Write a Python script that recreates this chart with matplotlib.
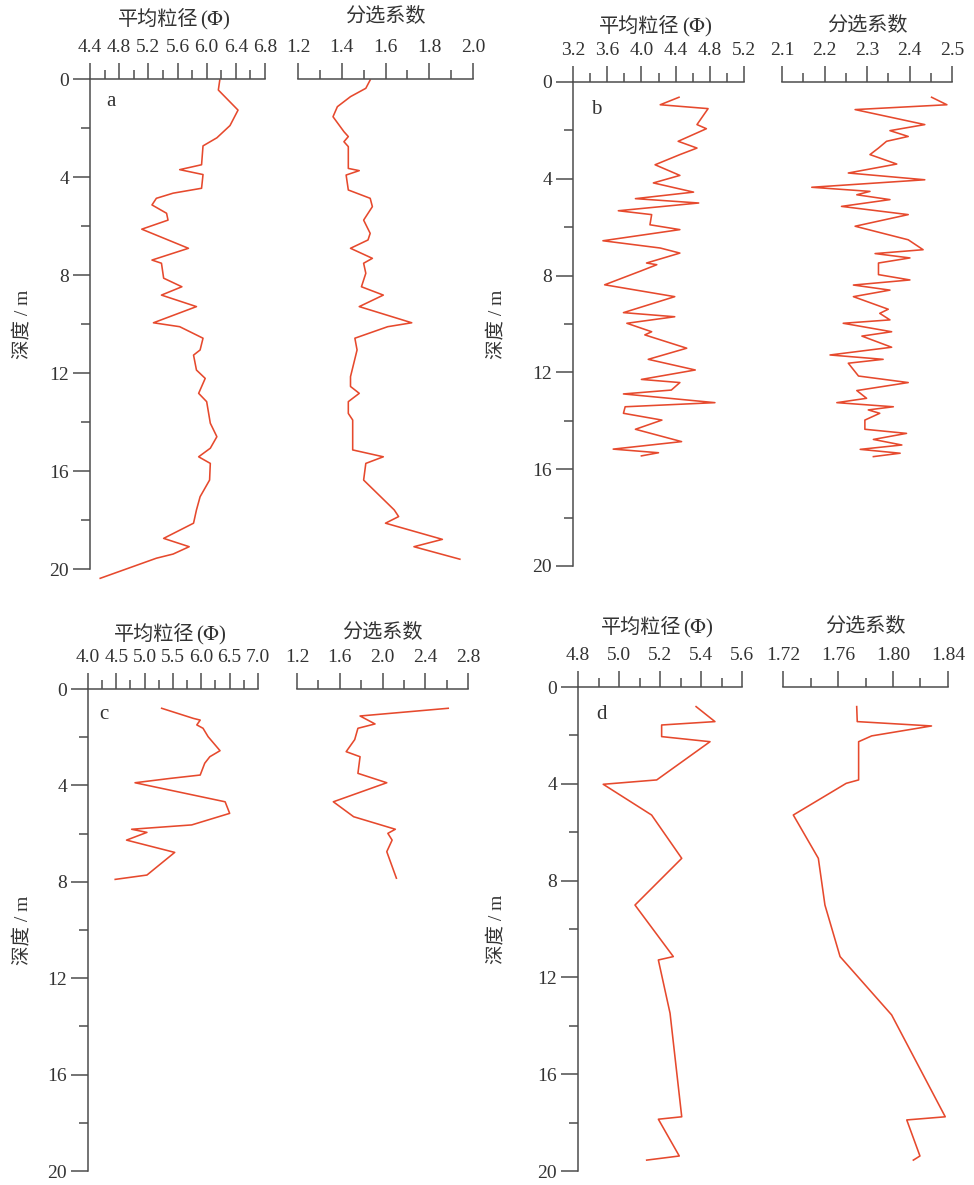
import matplotlib
matplotlib.use('Agg')
import matplotlib.pyplot as plt
from matplotlib.ticker import MultipleLocator, FormatStrFormatter

plt.rcParams['font.family'] = ['Liberation Serif', 'Noto Sans CJK SC']
plt.rcParams['mathtext.fontset'] = 'stix'

# ---- data (depth in m) ----
# panel a
a_mean_depth = [0.04, 0.45, 1.27, 1.9, 2.4, 2.73, 3.5, 3.7, 3.9, 4.46, 4.66, 4.87, 5.14, 5.48, 5.76,
                6.13, 6.91, 7.39, 7.52, 8.13, 8.48, 8.82, 9.29, 9.95, 10.11, 10.58, 11.06, 11.27, 11.88,
                12.22, 12.83, 13.17, 14.05, 14.6, 15.07, 15.42, 15.69, 16.37, 17.05, 17.59, 18.13, 18.75,
                19.09, 19.39, 19.56, 20.38]
a_mean = [6.18, 6.16, 6.43, 6.32, 6.14, 5.95, 5.93, 5.63, 5.95, 5.93, 5.54, 5.31, 5.25, 5.45, 5.47,
          5.11, 5.75, 5.25, 5.38, 5.41, 5.66, 5.38, 5.86, 5.27, 5.63, 5.95, 5.91, 5.82, 5.86,
          5.98, 5.89, 6.0, 6.05, 6.14, 6.05, 5.89, 6.05, 6.04, 5.91, 5.86, 5.82, 5.41,
          5.76, 5.54, 5.31, 4.54]
a_sort_depth = [0.04, 0.38, 0.72, 1.13, 1.54, 2.15, 2.35, 2.56, 2.76, 3.65, 3.74, 3.92, 4.53, 4.87,
                5.21, 5.76, 6.3, 6.57, 6.91, 7.32, 7.52, 7.93, 8.48, 8.82, 9.29, 9.95, 10.11, 10.58,
                11.06, 12.15, 12.55, 12.83, 13.17, 13.65, 13.92, 15.14, 15.42, 15.69, 16.37, 17.59,
                17.86, 18.13, 18.79, 19.09, 19.6]
a_sort = [1.53, 1.51, 1.44, 1.38, 1.36, 1.41, 1.43, 1.41, 1.43, 1.43, 1.48, 1.42, 1.43, 1.53,
          1.54, 1.50, 1.53, 1.52, 1.44, 1.54, 1.50, 1.51, 1.49, 1.59, 1.48, 1.72, 1.61, 1.46,
          1.47, 1.44, 1.44, 1.48, 1.43, 1.43, 1.45, 1.45, 1.59, 1.51, 1.50, 1.64,
          1.66, 1.60, 1.86, 1.73, 1.94]

# panel b
b_mean_depth = [0.63, 0.94, 1.10, 1.76, 1.93, 2.45, 2.73, 3.0, 3.42, 3.86, 4.17, 4.55, 4.82, 5.0,
                5.32, 5.48, 5.9, 6.1, 6.56, 6.86, 7.07, 7.48, 7.55, 7.8, 8.38, 8.87, 9.53, 9.70,
                9.97, 10.32, 10.45, 11.0, 11.46, 11.9, 12.29, 12.42, 12.73, 12.89, 13.25, 13.42,
                13.69, 13.97, 14.35, 14.86, 15.17, 15.32, 15.45]
b_mean = [4.44, 4.22, 4.78, 4.65, 4.76, 4.43, 4.65, 4.45, 4.16, 4.45, 4.14, 4.61, 3.93, 4.67,
          3.73, 4.12, 4.10, 4.45, 3.55, 4.22, 4.45, 4.06, 4.18, 4.0, 3.57, 4.39, 3.79, 4.39,
          3.83, 4.12, 4.04, 4.53, 4.08, 4.63, 4.0, 4.45, 4.35, 3.79, 4.86, 3.81,
          3.79, 4.24, 3.93, 4.47, 3.67, 4.20, 4.0]
b_sort_depth = [0.63, 0.94, 1.14, 1.76, 2.01, 2.25, 2.45, 2.73, 3.0, 3.39, 3.76, 4.04, 4.35, 4.52,
                4.66, 4.86, 5.14, 5.48, 5.96, 6.52, 6.93, 7.09, 7.27, 7.48, 7.96, 8.18, 8.39, 8.6,
                8.87, 9.39, 9.56, 9.83, 9.97, 10.32, 10.5, 10.96, 11.28, 11.46, 11.62, 12.15, 12.42,
                12.75, 13.07, 13.25, 13.42, 13.55, 13.69, 13.97, 14.35, 14.52, 14.77, 15.0, 15.18,
                15.34, 15.48]
b_sort = [2.452, 2.488, 2.272, 2.436, 2.354, 2.397, 2.346, 2.327, 2.307, 2.37, 2.256, 2.436, 2.17,
          2.307, 2.276, 2.354, 2.24, 2.397, 2.272, 2.397, 2.432, 2.319, 2.401, 2.327, 2.327, 2.401,
          2.268, 2.354, 2.268, 2.35, 2.33, 2.354, 2.244, 2.358, 2.288, 2.358, 2.213, 2.338, 2.256,
          2.28, 2.397, 2.276, 2.299, 2.229, 2.362, 2.303, 2.33, 2.295, 2.295, 2.393, 2.315, 2.382,
          2.284, 2.378, 2.315]

# panel c
c_mean_depth = [0.80, 1.22, 1.29, 1.49, 1.63, 1.98, 2.56, 2.81, 3.08, 3.57, 3.71, 3.89, 4.68, 5.16,
                5.64, 5.82, 5.95, 6.27, 6.78, 7.72, 7.9]
c_mean = [5.30, 5.86, 5.98, 5.92, 6.03, 6.12, 6.33, 6.15, 6.06, 5.98, 5.45, 4.83, 6.42, 6.50,
          5.83, 4.77, 5.04, 4.68, 5.53, 5.04, 4.48]
c_sort_depth = [0.80, 1.12, 1.45, 1.63, 2.1, 2.6, 2.81, 3.5, 3.89, 4.68, 5.3, 5.82, 5.99, 6.27, 6.75, 7.85]
c_sort = [2.615, 1.79, 1.93, 1.77, 1.74, 1.66, 1.79, 1.77, 2.04, 1.54, 1.73, 2.12, 2.05, 2.09, 2.04, 2.13]

# panel d
d_mean_depth = [0.81, 1.43, 1.57, 2.05, 2.26, 3.84, 4.02, 5.29, 7.08, 9.01, 11.14, 11.28, 13.48,
                17.76, 17.86, 19.38, 19.55]
d_mean = [5.376, 5.468, 5.208, 5.208, 5.444, 5.184, 4.923, 5.159, 5.306, 5.078, 5.265, 5.192, 5.249,
          5.306, 5.192, 5.294, 5.135]
d_sort_depth = [0.81, 1.43, 1.61, 2.02, 2.26, 3.84, 3.98, 5.29, 7.08, 9.01, 11.14, 13.55, 17.76,
                17.89, 19.38, 19.55]
d_sort = [1.7736, 1.774, 1.828, 1.7845, 1.775, 1.775, 1.766, 1.7275, 1.7457, 1.7505, 1.7615, 1.799,
          1.838, 1.810, 1.8196, 1.8148]

mean_title = '平均粒径'
mean_unit = '($\\mathit{\\Phi}$)'
sort_title = '分选系数'
depth_label = '深度 / m'

W, H = 974, 1185
fig = plt.figure(figsize=(W / 100, H / 100), dpi=100)
line_c = '#e6492d'
axis_c = '#4d4d4d'
text_c = '#333333'


def px_axes(x0, x1, y0, y1):
    return fig.add_axes([x0 / W, 1 - y1 / H, (x1 - x0) / W, (y1 - y0) / H])


def style(ax, lim, major, fmt, depth):
    ax.set_xlim(lim)
    ax.set_ylim(20, 0)
    ax.patch.set_alpha(0)
    ax.xaxis.tick_top()
    ax.xaxis.set_major_locator(MultipleLocator(major))
    ax.xaxis.set_minor_locator(MultipleLocator(major / 2))
    ax.xaxis.set_major_formatter(FormatStrFormatter(fmt))
    for s in ['right', 'bottom']:
        ax.spines[s].set_visible(False)
    for s in ['top', 'left']:
        ax.spines[s].set_color(axis_c)
        ax.spines[s].set_linewidth(1.1)
    ax.tick_params(axis='x', which='major', length=11.5, width=1.1, color=axis_c,
                   labelsize=14, labelcolor=text_c, pad=5)
    ax.tick_params(axis='x', which='minor', length=6.5, width=1.1, color=axis_c)
    if depth:
        ax.yaxis.set_major_locator(MultipleLocator(4))
        ax.yaxis.set_minor_locator(MultipleLocator(2))
        ax.yaxis.set_major_formatter(FormatStrFormatter('%d'))
        ax.tick_params(axis='y', which='major', length=12, width=1.1, color=axis_c,
                       labelsize=14, labelcolor=text_c, pad=3)
        ax.tick_params(axis='y', which='minor', length=6.5, width=1.1, color=axis_c)
    else:
        ax.spines['left'].set_visible(False)
        ax.yaxis.set_visible(False)


# layout per panel: depth axis x, mean right, sort left/right, y of 0 and 20,
# title heights, letter offset, ylabel x
panels = [
    ('a', 90, 265, 298, 473, 79, 569, (4.4, 6.8), 0.4, '%.1f', (1.2, 2.0), 0.2, '%.1f',
     a_mean_depth, a_mean, a_sort_depth, a_sort, 20, 17, (21, -23), 22),
    ('b', 573, 744, 782, 952, 82, 566, (3.2, 5.2), 0.4, '%.1f', (2.1, 2.5), 0.1, '%.1f',
     b_mean_depth, b_mean, b_sort_depth, b_sort, 27, 26, (23, -28), 496),
    ('c', 88, 258, 297, 468, 689, 1171, (4.0, 7.0), 0.5, '%.1f', (1.2, 2.8), 0.4, '%.1f',
     c_mean_depth, c_mean, c_sort_depth, c_sort, 635, 633, (16, -26), 22),
    ('d', 578, 742, 783, 948, 687, 1171, (4.8, 5.6), 0.2, '%.1f', (1.72, 1.84), 0.04, '%.2f',
     d_mean_depth, d_mean, d_sort_depth, d_sort, 628, 627, (24, -28), 496),
]

for (letter, dx, mr, sl, sr, y0, y20, mlim, mmaj, mfmt, slim, smaj, sfmt,
     md, mv, sd, sv, ty_m, ty_s, loff, ylx) in panels:
    ax1 = px_axes(dx, mr, y0, y20)
    style(ax1, mlim, mmaj, mfmt, True)
    ax1.plot(mv, md, color=line_c, lw=1.15, clip_on=False)
    ax1.annotate(letter, xy=(0, 1), xycoords='axes fraction',
                 xytext=(loff[0] / 1.389, loff[1] / 1.389), textcoords='offset points',
                 ha='center', va='center', fontsize=15, color=text_c)

    ax2 = px_axes(sl, sr, y0, y20)
    style(ax2, slim, smaj, sfmt, False)
    ax2.plot(sv, sd, color=line_c, lw=1.15, clip_on=False)

    cx = (dx + mr) / 2
    fig.text((cx + 21) / W, 1 - ty_m / H, mean_title, ha='right', va='center',
             fontsize=14.5, color=text_c)
    fig.text((cx + 23) / W, 1 - ty_m / H, mean_unit, ha='left', va='center',
             fontsize=15, color=text_c)
    fig.text((sl + sr) / 2 / W, 1 - ty_s / H, sort_title, ha='center', va='center',
             fontsize=14.5, color=text_c)
    fig.text(ylx / W, 1 - (y0 + y20) / 2 / H, depth_label, rotation=90, ha='center',
             va='center', fontsize=14, color=text_c)

fig.savefig('out.png', dpi=100, facecolor='white')
